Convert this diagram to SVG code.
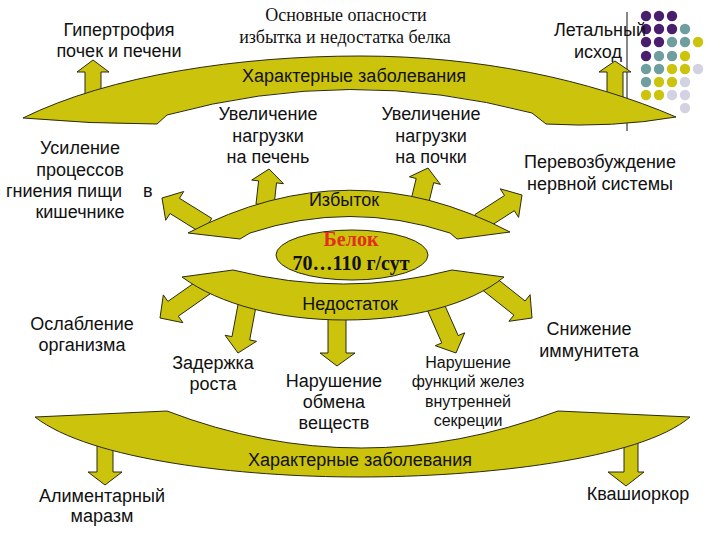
<svg xmlns="http://www.w3.org/2000/svg" width="720" height="540" viewBox="0 0 720 540">
<style>
.sh{fill:#cbc30c;stroke:#2a2a10;stroke-width:1;stroke-linejoin:miter}
.t{font-family:"Liberation Sans",Arial,sans-serif;font-size:18px;fill:#111;text-anchor:middle}
.sm{font-size:16px}
.se{font-family:"Liberation Serif","Times New Roman",serif;font-size:18px;fill:#111;text-anchor:middle}
.b{font-family:"Liberation Serif","Times New Roman",serif;font-size:20px;font-weight:bold;text-anchor:middle}
.p{fill:#4a1e6e}.g{fill:#6f9e9e}.y{fill:#cbc30c}.l{fill:#d2d2e2}
</style>
<rect width="720" height="540" fill="#fff"/>
<g id="decor">
<line x1="627" y1="12" x2="627" y2="131" stroke="#111" stroke-width="1"/>
<circle class="p" cx="646" cy="16" r="5.2"/><circle class="p" cx="659" cy="16" r="5.2"/><circle class="p" cx="672" cy="16" r="5.2"/>
<circle class="p" cx="646" cy="29" r="5.2"/><circle class="p" cx="659" cy="29" r="5.2"/><circle class="p" cx="672" cy="29" r="5.2"/><circle class="g" cx="685" cy="29" r="5.2"/>
<circle class="p" cx="646" cy="42" r="5.2"/><circle class="p" cx="659" cy="42" r="5.2"/><circle class="g" cx="672" cy="42" r="5.2"/><circle class="g" cx="685" cy="42" r="5.2"/><circle class="y" cx="698" cy="42" r="5.2"/>
<circle class="p" cx="646" cy="56" r="5.2"/><circle class="g" cx="659" cy="56" r="5.2"/><circle class="g" cx="672" cy="56" r="5.2"/><circle class="y" cx="685" cy="56" r="5.2"/>
<circle class="g" cx="646" cy="69" r="5.2"/><circle class="g" cx="659" cy="69" r="5.2"/><circle class="y" cx="672" cy="69" r="5.2"/><circle class="y" cx="685" cy="69" r="5.2"/><circle class="l" cx="698" cy="69" r="5.2"/>
<circle class="g" cx="646" cy="82" r="5.2"/><circle class="y" cx="659" cy="82" r="5.2"/><circle class="y" cx="672" cy="82" r="5.2"/><circle class="l" cx="685" cy="82" r="5.2"/>
<circle class="y" cx="646" cy="95" r="5.2"/><circle class="y" cx="659" cy="95" r="5.2"/><circle class="l" cx="672" cy="95" r="5.2"/><circle class="l" cx="685" cy="95" r="5.2"/>
<circle class="l" cx="685" cy="108" r="5.2"/>
</g>
<g id="connectors">
<polygon class="sh" points="85,100 85,72 77,72 93,60 109,72 101,72 101,100"/>
<polygon class="sh" points="607,105 607,72 599,72 615,61 631,72 623,72 623,105"/>
<polygon class="sh" points="211.8,218.4 179.5,198.3 183.7,191.5 162,198 165.7,220.3 170,213.5 202.3,233.6"/>
<polygon class="sh" points="274,206 276.5,182.9 283.5,183.7 269,169 251.7,180.1 258.6,180.9 256,204"/>
<polygon class="sh" points="427.7,207.1 433.7,182.7 440.4,184.4 428,168 409.4,176.8 416.2,178.5 410.3,202.9"/>
<polygon class="sh" points="484.9,229.6 514.3,210.7 518.6,217.4 522,195 500.2,188.8 504.5,195.5 475.1,214.4"/>
<polygon class="sh" points="201.8,277.6 167.9,301.4 163.3,294.9 160,318 182.9,322.7 178.3,316.2 212.2,292.4"/>
<polygon class="sh" points="239.2,298.3 232,336.6 225.1,335.3 238,353 256.5,341.3 249.7,340 256.9,301.7"/>
<polygon class="sh" points="328,310 328,353 320,353 337,366 355,353 346,353 346,310"/>
<polygon class="sh" points="425.8,306.6 441.8,342.9 435.3,345.7 456,353 464.7,332.8 458.2,335.6 442.2,299.4"/>
<polygon class="sh" points="482.4,290 513.9,315.1 508.9,321.3 532,318 530.1,294.7 525.1,301 493.6,276"/>
<polygon class="sh" points="97,440 97,472 88,472 105,485 122,472 113,472 113,440"/>
<polygon class="sh" points="624,440 624,472 608,472 626,486 644,472 638,472 638,440"/>
</g>
<g id="bands">
<path class="sh" d="M23,118 C110,75 240,56 360,56 C480,56 590,80 676,117 Q612,128 546,124 L532,113 Q350,65 167,115 L157,124 Q90,124 23,118 Z"/>
<path class="sh" d="M188,233 Q350,148 510,232 L457,239 L450,233 Q350,200 250,233 L240,239 Z"/>
<path class="sh" d="M182,277 L233,270 Q345,298 452,270 L504,277 C470,305 410,320 345,320 C280,320 220,305 182,277 Z"/>
<path class="sh" d="M35,417 L167,411 Q360,485 558,411 L690,417 C640,460 480,477 360,477 C240,477 90,460 35,417 Z"/>
</g>
<g id="title"><text class="se" x="346" y="21">Основные опасности</text><text class="se" x="345" y="43">избытка и недостатка белка</text></g>
<g id="hypertrophy"><text class="t" x="119" y="36">Гипертрофия</text><text class="t" x="119" y="57">почек и печени</text></g>
<g id="lethal"><text class="t" x="600" y="36">Летальный</text><text class="t" x="598" y="58">исход</text></g>
<g id="diseases-top"><text class="t" x="354" y="82">Характерные заболевания</text></g>
<g id="liver"><text class="t" x="268" y="120">Увеличение</text><text class="t" x="268" y="142">нагрузки</text><text class="t" x="268" y="163">на печень</text></g>
<g id="kidneys"><text class="t" x="431" y="120">Увеличение</text><text class="t" x="431" y="142">нагрузки</text><text class="t" x="431" y="163">на почки</text></g>
<g id="putrefaction"><text class="t" x="80" y="154">Усиление</text><text class="t" x="80" y="176">процессов</text><text class="t" x="122" y="197" style="text-anchor:end">гниения пищи</text><text class="t" x="143" y="197" style="text-anchor:start">в</text><text class="t" x="80" y="218">кишечнике</text></g>
<g id="nervous"><text class="t" x="600" y="168">Перевозбуждение</text><text class="t" x="600" y="190">нервной системы</text></g>
<g id="excess"><text class="t" x="344" y="206">Избыток</text></g>
<g id="protein"><ellipse class="sh" cx="352" cy="255" rx="76" ry="25"/><text class="b" x="351" y="246" fill="#e0301a">Белок</text><text class="b" x="351" y="270" fill="#111">70…110 г/сут</text></g>
<g id="deficit"><text class="t" x="350" y="310">Недостаток</text></g>
<g id="weakening"><text class="t" x="82" y="330">Ослабление</text><text class="t" x="82" y="351">организма</text></g>
<g id="growth"><text class="t" x="213" y="369">Задержка</text><text class="t" x="213" y="390">роста</text></g>
<g id="metabolism"><text class="t" x="334" y="387">Нарушение</text><text class="t" x="334" y="408">обмена</text><text class="t" x="334" y="429">веществ</text></g>
<g id="glands"><text class="t sm" x="468" y="368">Нарушение</text><text class="t sm" x="468" y="387">функций желез</text><text class="t sm" x="468" y="407">внутренней</text><text class="t sm" x="468" y="426">секреции</text></g>
<g id="immunity"><text class="t" x="589" y="335">Снижение</text><text class="t" x="589" y="357">иммунитета</text></g>
<g id="diseases-bottom"><text class="t" x="360" y="466">Характерные заболевания</text></g>
<g id="marasmus"><text class="t" x="102" y="502">Алиментарный</text><text class="t" x="102" y="522">маразм</text></g>
<g id="kwashiorkor"><text class="t" x="638" y="500">Квашиоркор</text></g>
</svg>
